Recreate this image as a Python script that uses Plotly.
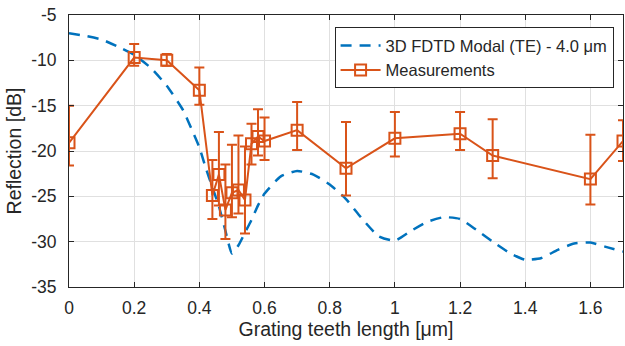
import plotly.graph_objects as go

# Simulation curve (3D FDTD Modal (TE) - 4.0 um)
sim_x = [0, 0.05, 0.1, 0.15, 0.2, 0.25, 0.3, 0.35, 0.38, 0.4, 0.42, 0.44, 0.46, 0.48,
         0.5, 0.52, 0.54, 0.56, 0.58, 0.6, 0.65, 0.7, 0.75, 0.8, 0.85, 0.9, 0.95, 1.0,
         1.05, 1.1, 1.15, 1.2, 1.25, 1.3, 1.35, 1.4, 1.45, 1.5, 1.55, 1.6, 1.65, 1.7]
sim_y = [-7.0, -7.3, -7.7, -8.5, -9.4, -10.8, -12.8, -15.5, -17.9, -19.6, -21.9, -24.0,
         -26.1, -28.8, -31.3, -30.4, -29.0, -27.6, -26.0, -24.7, -22.8, -22.2, -22.6,
         -23.7, -25.3, -27.5, -29.4, -29.9, -28.8, -27.8, -27.3, -27.5, -28.7, -30.0,
         -31.2, -32.0, -31.8, -30.9, -30.2, -30.1, -30.6, -31.1]

# Measurements
meas_x = [0, 0.2, 0.3, 0.4, 0.44, 0.46, 0.48, 0.50, 0.52, 0.54, 0.56, 0.58, 0.60,
          0.70, 0.85, 1.0, 1.2, 1.3, 1.6, 1.7]
meas_y = [-19.1, -9.7, -10.0, -13.3, -24.9, -22.6, -26.5, -24.6, -24.3, -25.4, -19.2,
          -18.4, -18.9, -17.7, -21.9, -18.6, -18.1, -20.5, -23.1, -18.9]
meas_top = [-15.0, -8.2, -9.3, -10.8, -21.0, -17.9, -21.5, -19.3, -18.3, -19.5, -17.0,
            -15.4, -16.3, -14.6, -16.8, -15.7, -15.7, -16.5, -18.2, -16.6]
meas_bottom = [-21.6, -10.6, -10.6, -14.9, -27.5, -26.0, -29.7, -27.3, -26.9, -29.1,
               -21.5, -20.5, -21.0, -19.9, -24.9, -20.6, -19.9, -23.0, -25.9, -21.1]

x_ticks = [0, 0.2, 0.4, 0.6, 0.8, 1, 1.2, 1.4, 1.6]
x_ticktext = ["0", "0.2", "0.4", "0.6", "0.8", "1", "1.2", "1.4", "1.6"]
y_ticks = [-35, -30, -25, -20, -15, -10, -5]
y_ticktext = ["-35", "-30", "-25", "-20", "-15", "-10", "-5"]

err_plus = [t - y for t, y in zip(meas_top, meas_y)]
err_minus = [y - b for y, b in zip(meas_y, meas_bottom)]

BLUE = "#0072BD"
ORANGE = "#D95319"
DARK = "#262626"
FONT = "Liberation Sans, Arial, Helvetica, sans-serif"

fig = go.Figure()
fig.add_trace(go.Scatter(
    x=sim_x, y=sim_y, mode="lines", name="3D FDTD Modal (TE) - 4.0 μm",
    line=dict(color=BLUE, width=2.5, dash="11px,8px", shape="spline", smoothing=0.5),
))
fig.add_trace(go.Scatter(
    x=meas_x, y=meas_y, mode="lines+markers", name="Measurements",
    line=dict(color=ORANGE, width=2),
    marker=dict(symbol="square-open", size=11, color=ORANGE, line=dict(width=2, color=ORANGE)),
    error_y=dict(type="data", symmetric=False, array=err_plus, arrayminus=err_minus,
                 color=ORANGE, thickness=2, width=5),
))

axis_common = dict(
    showgrid=True, gridcolor="#e0e0e0", gridwidth=1,
    showline=True, linecolor=DARK, linewidth=1, mirror="ticks",
    ticks="inside", ticklen=5, tickwidth=1, tickcolor=DARK,
    tickfont=dict(family=FONT, size=17.5, color=DARK),
    zeroline=False, automargin=False,
)

fig.update_layout(
    width=625, height=346,
    margin=dict(l=69, r=2, t=15, b=59),
    paper_bgcolor="white", plot_bgcolor="white",
    font=dict(family=FONT, color=DARK),
    xaxis=dict(range=[0, 1.7], tickvals=x_ticks, ticktext=x_ticktext,
               title=dict(text="Grating teeth length [μm]", font=dict(size=19.5, family=FONT, color=DARK), standoff=2),
               ticklabelstandoff=5, **axis_common),
    yaxis=dict(range=[-35, -5], tickvals=y_ticks, ticktext=y_ticktext,
               title=dict(text="Reflection [dB]", font=dict(size=19.5, family=FONT, color=DARK), standoff=4),
               ticklabelstandoff=8, **axis_common),
    legend=dict(x=0.983, xanchor="right", y=0.955, yanchor="top",
                bgcolor="white", bordercolor=DARK, borderwidth=1,
                font=dict(family=FONT, size=16.5, color=DARK),
                tracegroupgap=0, itemwidth=40),
    showlegend=True,
)

fig.write_html("out.html", config={"displayModeBar": False},
               post_script="document.body.style.margin='0';document.body.style.padding='0';")
